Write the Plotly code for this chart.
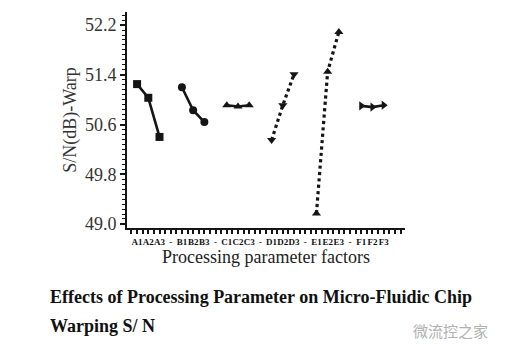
import plotly.graph_objects as go

# ---- data ----
tick_labels = ["A1", "A2", "A3", "-", "B1", "B2", "B3", "-", "C1", "C2", "C3", "-",
               "D1", "D2", "D3", "-", "E1", "E2", "E3", "-", "F1", "F2", "F3"]
factors = ["A", "B", "C", "D", "E", "F"]
A_vals = [51.25, 51.03, 50.40]
B_vals = [51.20, 50.83, 50.64]
C_vals = [50.91, 50.89, 50.91]
D_vals = [50.35, 50.91, 51.41]
E_vals = [49.17, 51.45, 52.09]
F_vals = [50.90, 50.88, 50.91]
y_ticks = [49.0, 49.8, 50.6, 51.4, 52.2]

series = {"A": A_vals, "B": B_vals, "C": C_vals, "D": D_vals, "E": E_vals, "F": F_vals}
markers = {"A": "square", "B": "circle", "C": "triangle-up", "D": "triangle-down",
           "E": "triangle-up", "F": "triangle-right"}
dashes = {"A": "solid", "B": "solid", "C": "solid", "D": "dot", "E": "dot", "F": "solid"}

INK = "#151515"
fig = go.Figure()
for f in factors:
    xs = [tick_labels.index(f + str(j + 1)) for j in range(3)]
    fig.add_trace(go.Scatter(
        x=xs, y=series[f], mode="lines+markers",
        line=dict(color=INK, width=2.6 if dashes[f] == "solid" else 3.2, dash=dashes[f]),
        marker=dict(symbol=markers[f], size=8, color=INK),
        showlegend=False, hoverinfo="skip"))

serif = "Liberation Serif"
fig.update_layout(
    width=508, height=354,
    margin=dict(l=127, r=103, t=12, b=126),
    paper_bgcolor="white", plot_bgcolor="white",
    font=dict(family=serif, color="#222"),
    xaxis=dict(
        range=[-0.9, 23.9], tickmode="array",
        tickvals=list(range(len(tick_labels))), ticktext=tick_labels,
        tickfont=dict(family=serif, size=9, color="#111", weight="bold"),
        tickangle=0,
        showline=True, linecolor=INK, linewidth=2, mirror=False,
        ticks="outside", ticklen=4, tickwidth=1.5, tickcolor=INK,
        minor=dict(ticks="outside", ticklen=4, tickwidth=1.5, tickcolor=INK, dtick=0.5, tick0=0),
        showgrid=False, zeroline=False,
        title=dict(text="Processing parameter factors", font=dict(family=serif, size=18, color="#222"),
                   standoff=2),
    ),
    yaxis=dict(
        range=[48.935, 52.41], tickmode="array", tickvals=y_ticks,
        ticktext=[f"{v:.1f}" for v in y_ticks],
        tickfont=dict(family=serif, size=18, color="#333"),
        showline=True, linecolor=INK, linewidth=2,
        ticks="outside", ticklen=5, tickwidth=1.5, tickcolor=INK,
        minor=dict(ticks="outside", ticklen=3, tickwidth=1.2, tickcolor=INK, dtick=0.08, tick0=49.0),
        showgrid=False, zeroline=False,
        title=dict(text="S/N(dB)-Warp", font=dict(family=serif, size=18, color="#333"), standoff=4),
    ),
)

cap_x = (48 - 127) / 278
fig.add_annotation(
    text="Effects of Processing Parameter on Micro-Fluidic Chip",
    xref="paper", yref="paper", x=cap_x, y=-(297 - 228) / 216,
    xanchor="left", yanchor="middle", showarrow=False,
    font=dict(family=serif, size=18, color="#111", weight="bold"))
fig.add_annotation(
    text="Warping S/ N",
    xref="paper", yref="paper", x=cap_x, y=-(326 - 228) / 216,
    xanchor="left", yanchor="middle", showarrow=False,
    font=dict(family=serif, size=18, color="#111", weight="bold"))
fig.add_annotation(
    text="微流控之家",
    xref="paper", yref="paper", x=(490 - 127) / 278, y=-(330 - 228) / 216,
    xanchor="right", yanchor="middle", showarrow=False,
    font=dict(family="Noto Sans CJK SC", size=15, color="#b0b0b0"))

fig.write_html("out.html")
